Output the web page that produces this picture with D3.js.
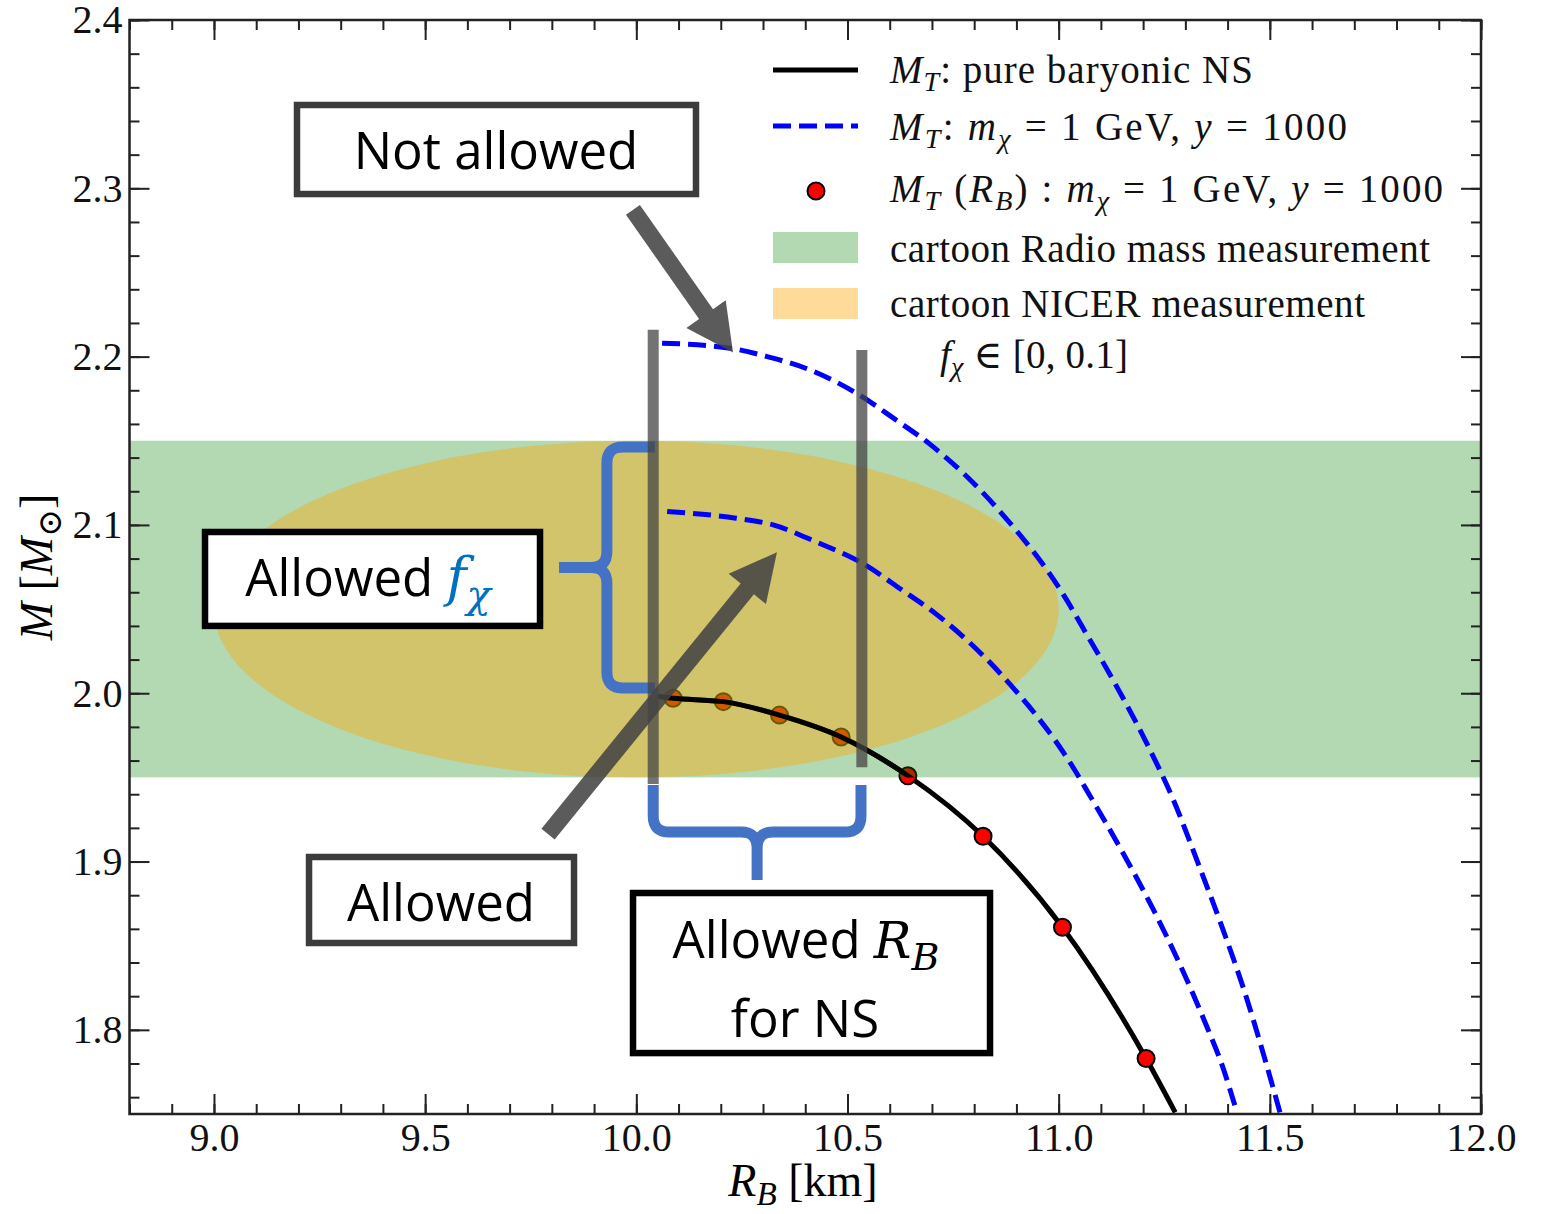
<!DOCTYPE html>
<html>
<head>
<meta charset="utf-8">
<script src="https://cdn.jsdelivr.net/npm/d3@7"></script>
<style>
  body { margin: 0; background: #fff; }
</style>
</head>
<body>
<div id="chart"></div>
<script>
// ---- data ----
const baryR = [10.051, 10.087, 10.206, 10.339, 10.485, 10.643, 10.821, 11.009, 11.207, 11.276];
const baryM = [1.998, 1.997, 1.995, 1.987, 1.974, 1.951, 1.915, 1.861, 1.783, 1.751];

const dotR = [10.087, 10.206, 10.339, 10.485, 10.643, 10.821, 11.009, 11.207];
const dotM = [1.997, 1.995, 1.987, 1.974, 1.951, 1.915, 1.861, 1.783];

const upR = [10.061, 10.222, 10.310, 10.412, 10.523, 10.617, 10.695, 10.861, 11.020, 11.057, 11.133, 11.209, 11.271, 11.330, 11.387, 11.441, 11.489, 11.524];
const upM = [2.208, 2.205, 2.200, 2.192, 2.178, 2.162, 2.148, 2.108, 2.055, 2.039, 2.006, 1.970, 1.937, 1.899, 1.861, 1.822, 1.782, 1.751];

const loR = [10.073, 10.236, 10.324, 10.425, 10.537, 10.631, 10.710, 10.868, 11.034, 11.072, 11.148, 11.223, 11.285, 11.349, 11.387, 11.422];
const loM = [2.108, 2.104, 2.100, 2.090, 2.077, 2.061, 2.047, 2.010, 1.956, 1.940, 1.907, 1.872, 1.840, 1.803, 1.779, 1.751];

const radioM = [1.95, 2.15];           // green band
const nicerR = [9.0, 11.0];            // ellipse extent in R
const nicerM = [1.95, 2.15];           // ellipse extent in M

const xTicks = [9.0, 9.5, 10.0, 10.5, 11.0, 11.5, 12.0];
const xTickLabels = ["9.0", "9.5", "10.0", "10.5", "11.0", "11.5", "12.0"];
const yTicks = [1.8, 1.9, 2.0, 2.1, 2.2, 2.3, 2.4];
const yTickLabels = ["1.8", "1.9", "2.0", "2.1", "2.2", "2.3", "2.4"];

// annotation overlay (data coordinates)
const barsR = [10.040, 10.534];
const barsTop = [2.216, 2.204];
const barsBot = [1.946, 1.956];

const W = 1544, H = 1214;
const x = d3.scaleLinear().domain([8.8, 12.0]).range([129.5, 1481]);
const y = d3.scaleLinear().domain([1.75, 2.4]).range([1114, 20]);

const svg = d3.select("#chart").append("svg")
    .attr("width", W)
    .attr("height", H)
    .style("font-family", "'Liberation Serif', 'DejaVu Serif', serif");

svg.append("defs").append("clipPath").attr("id", "plot")
    .append("rect")
    .attr("x", x(8.8)).attr("y", y(2.4))
    .attr("width", x(12) - x(8.8)).attr("height", y(1.75) - y(2.4));

// band region clip, so the black line sits over the shaded regions there
svg.select("defs").append("clipPath").attr("id", "band")
    .append("rect")
    .attr("x", x(8.8)).attr("y", y(radioM[1]))
    .attr("width", x(12) - x(8.8)).attr("height", y(radioM[0]) - y(radioM[1]));

const plot = svg.append("g").attr("clip-path", "url(#plot)");

const line = d3.line().x(d => x(d[0])).y(d => y(d[1])).curve(d3.curveMonotoneX);
const bary = baryR.map((r, i) => [r, baryM[i]]);
const up = upR.map((r, i) => [r, upM[i]]);
const lo = loR.map((r, i) => [r, loM[i]]);

plot.append("path").datum(bary).attr("d", line)
    .attr("fill", "none").attr("stroke", "#000").attr("stroke-width", 5);

plot.selectAll(".dot").data(dotR).enter().append("circle")
    .attr("class", "dot")
    .attr("cx", d => x(d))
    .attr("cy", (d, i) => y(dotM[i]))
    .attr("r", 8.5)
    .attr("fill", "red").attr("stroke", "#000").attr("stroke-width", 2);

plot.append("rect")
    .attr("x", x(8.8)).attr("width", x(12) - x(8.8))
    .attr("y", y(radioM[1])).attr("height", y(radioM[0]) - y(radioM[1]))
    .attr("fill", "green").attr("fill-opacity", 0.3);

plot.append("ellipse")
    .attr("cx", x((nicerR[0] + nicerR[1]) / 2))
    .attr("cy", y((nicerM[0] + nicerM[1]) / 2))
    .attr("rx", (x(nicerR[1]) - x(nicerR[0])) / 2)
    .attr("ry", (y(nicerM[0]) - y(nicerM[1])) / 2)
    .attr("fill", "orange").attr("fill-opacity", 0.4);

plot.append("path").datum(bary).attr("d", line).attr("clip-path", "url(#band)")
    .attr("fill", "none").attr("stroke", "#000").attr("stroke-width", 5);

[up, lo].forEach(s => {
    plot.append("path").datum(s).attr("d", line)
        .attr("fill", "none").attr("stroke", "blue").attr("stroke-width", 5)
        .attr("stroke-dasharray", "18,8");
});

// ---- axes ----
function styleAxis(g) {
    g.select(".domain").remove();
    g.selectAll(".tick line").attr("stroke", "#222").attr("stroke-width", 2);
    g.selectAll("text").attr("font-size", 40).attr("fill", "#111")
        .attr("font-family", "'Liberation Serif', serif");
}
svg.append("g").attr("transform", `translate(0,${y(1.75)})`)
    .call(d3.axisBottom(x).tickValues(xTicks).tickFormat((d, i) => xTickLabels[i]).tickSize(-20).tickPadding(9))
    .call(styleAxis);
svg.append("g").attr("transform", `translate(0,${y(1.75)})`)
    .call(d3.axisBottom(x).tickValues(x.ticks(32)).tickFormat("").tickSize(-10))
    .call(styleAxis);
svg.append("g").attr("transform", `translate(0,${y(2.4)})`)
    .call(d3.axisTop(x).tickValues(xTicks).tickFormat("").tickSize(-20))
    .call(styleAxis);
svg.append("g").attr("transform", `translate(0,${y(2.4)})`)
    .call(d3.axisTop(x).tickValues(x.ticks(32)).tickFormat("").tickSize(-10))
    .call(styleAxis);
svg.append("g").attr("transform", `translate(${x(8.8)},0)`)
    .call(d3.axisLeft(y).tickValues(yTicks).tickFormat((d, i) => yTickLabels[i]).tickSize(-20).tickPadding(7))
    .call(styleAxis);
svg.append("g").attr("transform", `translate(${x(8.8)},0)`)
    .call(d3.axisLeft(y).tickValues(y.ticks(33)).tickFormat("").tickSize(-10))
    .call(styleAxis);
svg.append("g").attr("transform", `translate(${x(12)},0)`)
    .call(d3.axisRight(y).tickValues(yTicks).tickFormat("").tickSize(-20))
    .call(styleAxis);
svg.append("g").attr("transform", `translate(${x(12)},0)`)
    .call(d3.axisRight(y).tickValues(y.ticks(33)).tickFormat("").tickSize(-10))
    .call(styleAxis);

svg.append("rect")
    .attr("x", x(8.8)).attr("y", y(2.4))
    .attr("width", x(12) - x(8.8)).attr("height", y(1.75) - y(2.4))
    .attr("fill", "none").attr("stroke", "#222").attr("stroke-width", 2.5);

// math-ish text with italics and subscripts
function mathText(t, parts, size) {
    let off = 0;
    parts.forEach(([s, st]) => {
        const sub = st.endsWith("s");
        const target = sub ? size * 0.2 : 0;
        const ts = t.append("tspan").text(s).attr("dy", target - off);
        off = target;
        if (st.startsWith("i")) ts.attr("font-style", "italic");
        if (sub) ts.attr("font-size", size * 0.72);
    });
    return t;
}

svg.append("text").attr("x", 803).attr("y", 1196).attr("text-anchor", "middle")
    .attr("font-size", 46)
    .call(t => mathText(t, [["R", "i"], ["B", "is"], [" [km]", "r"]], 46));
svg.append("text").attr("transform", "translate(52,567) rotate(-90)").attr("text-anchor", "middle")
    .attr("font-size", 46)
    .call(t => mathText(t, [["M", "i"], [" [", "r"], ["M", "i"], ["\u2299", "rs"], ["]", "r"]], 46));

// ---- legend ----
const legendLabels = [
    [["M", "i"], ["T", "is"], [": pure baryonic NS", "r"]],
    [["M", "i"], ["T", "is"], [":  ", "r"], ["m", "i"], ["\u03c7", "is"], [" = 1 GeV, ", "r"], ["y", "i"], [" = 1000", "r"]],
    [["M", "i"], ["T", "is"], [" (", "r"], ["R", "i"], ["B", "is"], [") :  ", "r"], ["m", "i"], ["\u03c7", "is"], [" = 1 GeV, ", "r"], ["y", "i"], [" = 1000", "r"]],
    [["cartoon Radio mass measurement", "r"]],
    [["cartoon NICER measurement", "r"]],
    [["f", "i"], ["\u03c7", "is"], [" \u2208 [0, 0.1]", "r"]]
];
const legendY = [83, 140, 202, 262, 317, 368];
const legendLen = [363, 457, 553, 540, 475, 188];
const legendX = [890, 890, 890, 890, 890, 940];
const leg = svg.append("g");
legendLabels.forEach((p, i) => {
    leg.append("text").attr("x", legendX[i]).attr("y", legendY[i])
        .attr("font-size", 39).attr("fill", "#111")
        .attr("textLength", legendLen[i])
        .call(t => mathText(t, p, 39));
});
leg.append("line").attr("x1", 773).attr("x2", 858).attr("y1", 70).attr("y2", 70)
    .attr("stroke", "#000").attr("stroke-width", 5);
leg.append("line").attr("x1", 773).attr("x2", 858).attr("y1", 126).attr("y2", 126)
    .attr("stroke", "blue").attr("stroke-width", 5).attr("stroke-dasharray", "18,8");
leg.append("circle").attr("cx", 816).attr("cy", 191).attr("r", 8.5)
    .attr("fill", "red").attr("stroke", "#000").attr("stroke-width", 2);
leg.append("rect").attr("x", 773).attr("y", 232).attr("width", 85).attr("height", 31)
    .attr("fill", "green").attr("fill-opacity", 0.3);
leg.append("rect").attr("x", 773).attr("y", 288).attr("width", 85).attr("height", 31)
    .attr("fill", "orange").attr("fill-opacity", 0.4);

// ---- annotation overlay ----
const ann = svg.append("g");
const blue = "#4472C4";

// vertical brace: stub end at R 10.044, between M 2.146 and 2.003, tip at R 9.817
(function () {
    const xr = x(10.044), y0 = y(2.1463), y1 = y(2.0031), xt = x(9.817);
    const xm = xr - 48, ym = (y0 + y1) / 2, r = 16;
    ann.append("path")
        .attr("d", `M${xr},${y0} L${xm + r},${y0} Q${xm},${y0} ${xm},${y0 + r} L${xm},${ym - r} Q${xm},${ym} ${xm - r},${ym} L${xt},${ym}` +
            ` M${xt},${ym} L${xm - r},${ym} Q${xm},${ym} ${xm},${ym + r} L${xm},${y1 - r} Q${xm},${y1} ${xm + r},${y1} L${xr},${y1}`)
        .attr("fill", "none").attr("stroke", blue).attr("stroke-width", 11);
})();
// horizontal brace under the R window
(function () {
    const x0 = x(10.040), x1 = x(10.532), yt = y(1.9455), yh = y(1.9175), ytip = y(1.889);
    const xm = (x0 + x1) / 2, r = 16;
    ann.append("path")
        .attr("d", `M${x0},${yt} L${x0},${yh - r} Q${x0},${yh} ${x0 + r},${yh} L${xm - r},${yh} Q${xm},${yh} ${xm},${yh + r} L${xm},${ytip}` +
            ` M${xm},${ytip} L${xm},${yh + r} Q${xm},${yh} ${xm + r},${yh} L${x1 - r},${yh} Q${x1},${yh} ${x1},${yh - r} L${x1},${yt}`)
        .attr("fill", "none").attr("stroke", blue).attr("stroke-width", 11);
})();

// gray vertical bars
barsR.forEach((r, i) => {
    ann.append("line")
        .attr("x1", x(r)).attr("x2", x(r))
        .attr("y1", y(barsTop[i])).attr("y2", y(barsBot[i]))
        .attr("stroke", "#444").attr("stroke-opacity", 0.75).attr("stroke-width", 11);
});

// block arrows
function arrow(t, p) {
    const T = [x(t[0]), y(t[1])], P = [x(p[0]), y(p[1])];
    const dx = P[0] - T[0], dy = P[1] - T[1], L = Math.hypot(dx, dy);
    const u = [dx / L, dy / L], n = [-u[1], u[0]];
    const w = 8.5, hw = 24, hl = 47;
    const B = [P[0] - u[0] * hl, P[1] - u[1] * hl];
    const pts = [
        [T[0] + n[0] * w, T[1] + n[1] * w], [B[0] + n[0] * w, B[1] + n[1] * w],
        [B[0] + n[0] * hw, B[1] + n[1] * hw], P,
        [B[0] - n[0] * hw, B[1] - n[1] * hw], [B[0] - n[0] * w, B[1] - n[1] * w],
        [T[0] - n[0] * w, T[1] - n[1] * w]
    ];
    ann.append("polygon").attr("points", pts.map(q => q.join(",")).join(" "))
        .attr("fill", "#444").attr("fill-opacity", 0.88);
}
arrow([9.992, 2.2872], [10.229, 2.2024]);
arrow([9.791, 1.9163], [10.333, 2.0837]);

// text boxes
const boxes = [
    { r: [9.1966, 10.1413], m: [2.3495, 2.2966], stroke: "#3c3c3c" },
    { r: [8.9788, 9.7720], m: [2.0958, 2.0400], stroke: "#000" },
    { r: [9.2251, 9.8525], m: [1.9027, 1.8516], stroke: "#3c3c3c" },
    { r: [9.9922, 10.8375], m: [1.8813, 1.7862], stroke: "#000" }
];
boxes.forEach(b => {
    ann.append("rect")
        .attr("x", x(b.r[0])).attr("y", y(b.m[0]))
        .attr("width", x(b.r[1]) - x(b.r[0])).attr("height", y(b.m[1]) - y(b.m[0]))
        .attr("fill", "#fff").attr("stroke", b.stroke).attr("stroke-width", 6.5);
});
const sans = "'Open Sans', 'Noto Sans', sans-serif";
function boxText(xc, yb, size) {
    return ann.append("text").attr("x", xc).attr("y", yb).attr("text-anchor", "middle")
        .attr("font-family", sans).attr("font-size", size).attr("fill", "#000");
}
boxText(496, 169, 51).text("Not allowed");
boxText(441, 921, 51).text("Allowed");
boxText(805, 1037, 51).text("for NS");

const t2 = boxText(368, 596, 51);
t2.append("tspan").text("Allowed ");
t2.append("tspan").text("f").attr("font-family", "'DejaVu Serif', serif").attr("font-style", "italic")
    .attr("font-size", 54).attr("fill", "#0070C0");
t2.append("tspan").text("\u03c7").attr("font-family", "'DejaVu Serif', serif").attr("font-style", "italic")
    .attr("font-size", 40).attr("dy", 12).attr("fill", "#0070C0");

const t4 = boxText(806, 958, 51);
t4.append("tspan").text("Allowed ");
t4.append("tspan").text("R").attr("font-family", "'DejaVu Serif', serif").attr("font-style", "italic")
    .attr("font-size", 50);
t4.append("tspan").text("B").attr("font-family", "'DejaVu Serif', serif").attr("font-style", "italic")
    .attr("font-size", 38).attr("dy", 12);
</script>
</body>
</html>
